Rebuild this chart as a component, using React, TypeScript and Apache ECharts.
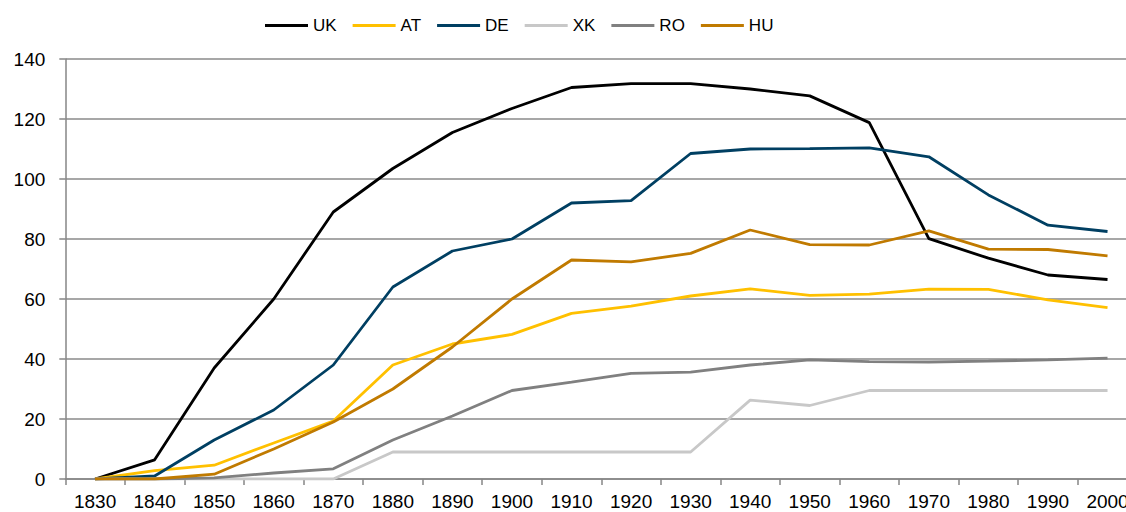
import React, { useEffect, useRef } from "react";
import * as echarts from "echarts";

const years = ["1830","1840","1850","1860","1870","1880","1890","1900","1910","1920","1930","1940","1950","1960","1970","1980","1990","2000"];
const uk = [0, 6.4, 37, 60, 89, 103.5, 115.5, 123.5, 130.5, 131.8, 131.8, 130, 127.7, 118.8, 80.1, 73.6, 68, 66.5];
const at = [0, 2.8, 4.6, 12, 19.3, 38, 45, 48.2, 55.2, 57.6, 61, 63.4, 61.2, 61.6, 63.3, 63.2, 59.7, 57.1];
const de = [0, 1, 13, 23, 38, 64, 76, 80, 92, 92.8, 108.5, 110, 110.1, 110.4, 107.4, 94.7, 84.6, 82.5];
const xk = [0, 0, 0, 0, 0, 9, 9, 9, 9, 9, 9, 26.3, 24.5, 29.5, 29.5, 29.5, 29.5, 29.5];
const ro = [0, 0, 0.4, 2, 3.4, 13, 21, 29.5, 32.3, 35.2, 35.6, 38, 39.7, 39.1, 39, 39.3, 39.7, 40.3];
const hu = [0, 0, 1.6, 10, 19, 30, 44, 60, 73, 72.4, 75.2, 83, 78.1, 78, 82.7, 76.6, 76.5, 74.4];

const seriesNames = ["UK", "AT", "DE", "XK", "RO", "HU"];
const seriesData = [uk, at, de, xk, ro, hu];
const colors = ["#000000", "#FFC000", "#003F62", "#C8C8C8", "#808080", "#C07A00"];

export default function App() {
  const ref = useRef<HTMLDivElement>(null);
  useEffect(() => {
    if (!ref.current) return;
    const chart = echarts.init(ref.current, null, { renderer: "svg" });
    const font = "'Liberation Sans', Arial, sans-serif";
    chart.setOption({
      animation: false,
      textStyle: { fontFamily: font },
      legend: {
        top: 12,
        left: 260,
        icon: "rect",
        itemWidth: 43,
        itemHeight: 3,
        itemGap: 16,
        textStyle: { fontSize: 17, color: "#000", fontFamily: font },
        data: seriesNames,
      },
      grid: { left: 65.3, width: 1072, top: 59, bottom: 33, containLabel: false, outerBoundsMode: "none" },
      xAxis: {
        type: "category",
        data: years,
        boundaryGap: true,
        axisLine: { lineStyle: { color: "#868686", width: 1.5 } },
        axisTick: { show: true, length: 6, lineStyle: { color: "#868686", width: 1.5 } },
        axisLabel: { color: "#000", fontSize: 19, margin: 13, interval: 0, fontFamily: font },
      },
      yAxis: {
        type: "value",
        min: 0,
        max: 140,
        interval: 20,
        axisLine: { show: true, lineStyle: { color: "#868686", width: 1.5 } },
        axisTick: { show: true, length: 6, lineStyle: { color: "#868686", width: 1.5 } },
        axisLabel: { color: "#000", fontSize: 19, margin: 20, fontFamily: font },
        splitLine: { lineStyle: { color: "#8a8a8a", width: 1.5 } },
      },
      series: seriesNames.map((n, i) => ({
        name: n,
        type: "line",
        data: seriesData[i],
        symbol: "none",
        color: colors[i],
        lineStyle: { width: 2.8, color: colors[i] },
      })),
    });
    return () => chart.dispose();
  }, []);
  return <div ref={ref} style={{ width: 1126, height: 512, position: "absolute", left: 0, top: 0 }} />;
}
